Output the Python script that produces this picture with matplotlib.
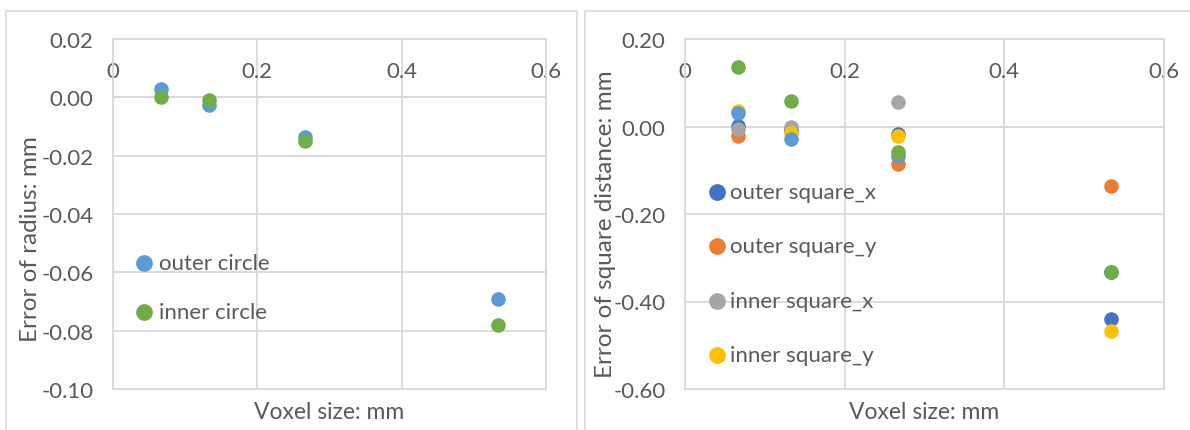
"""Excel-style scatter panels: radius and square-distance errors vs voxel size."""

import matplotlib

matplotlib.use("Agg")
import matplotlib.pyplot as plt
from matplotlib.patches import Rectangle
from matplotlib.ticker import FuncFormatter


VOXEL = [0.0667, 0.1333, 0.2667, 0.5333]

# left panel
CIRCLE_LABELS = ["outer circle", "inner circle"]
OUTER_CIRCLE = [0.0029, -0.0026, -0.0137, -0.0690]
INNER_CIRCLE = [0.0001, -0.0010, -0.0148, -0.0780]

# right panel (last two series are drawn but not listed in the legend)
SQUARE_LABELS = ["outer square_x", "outer square_y", "inner square_x", "inner square_y"]
OUTER_SQ_X = [0.002, -0.005, -0.017, -0.439]
OUTER_SQ_Y = [-0.021, -0.010, -0.085, -0.137]
INNER_SQ_X = [-0.005, -0.002, 0.055, -0.333]
INNER_SQ_Y = [0.035, -0.014, -0.021, -0.468]
EXTRA_1 = [0.031, -0.029, -0.067, -0.333]
EXTRA_2 = [0.137, 0.059, -0.059, -0.333]

X_TICKS = [0, 0.2, 0.4, 0.6]
LEFT_YTICKS = [0.02, 0.00, -0.02, -0.04, -0.06, -0.08, -0.10]
RIGHT_YTICKS = [0.20, 0.00, -0.20, -0.40, -0.60]

TEXT = "#595959"
GRID = "#D9D9D9"
DOT = 110

plt.rcParams.update({"font.family": ["Lato", "DejaVu Sans"], "font.size": 16})


def style_axis(ax, yticks, ylabel):
    ax.set_xlim(0, 0.6)
    ax.set_ylim(min(yticks), max(yticks))
    ax.set_xticks(X_TICKS)
    ax.set_xticklabels([f"{v:g}" for v in X_TICKS])
    ax.set_yticks(yticks)
    ax.yaxis.set_major_formatter(FuncFormatter(lambda v, _: f"{v:.2f}"))
    ax.xaxis.tick_top()
    ax.tick_params(axis="x", length=0, pad=-30, labelsize=16, colors=TEXT)
    ax.tick_params(axis="y", length=0, pad=14, labelsize=16, colors=TEXT)
    ax.grid(color=GRID, linewidth=1.3)
    ax.axhline(0, color=GRID, linewidth=1.3, zorder=1)
    ax.set_axisbelow(True)
    for spine in ax.spines.values():
        spine.set_color(GRID)
        spine.set_linewidth(1.3)
    ax.set_xlabel("Voxel size: mm", fontsize=16.5, color=TEXT)
    ax.xaxis.set_label_position("bottom")
    ax.xaxis.set_label_coords(0.5, -0.035)
    ax.set_ylabel(ylabel, fontsize=17.5, color=TEXT)


fig = plt.figure(figsize=(11.9, 4.31), dpi=100)

# chart frames
fig.patches.append(Rectangle((6 / 1190, -0.05), 571 / 1190, 1.05 - 12 / 431,
                             transform=fig.transFigure, fill=False,
                             edgecolor=GRID, linewidth=1.2))
fig.patches.append(Rectangle((585 / 1190, -0.05), 0.6, 1.05 - 12 / 431,
                             transform=fig.transFigure, fill=False,
                             edgecolor=GRID, linewidth=1.2))

ax1 = fig.add_axes([113 / 1190, 41 / 431, 433 / 1190, 350 / 431])
ax1.scatter(VOXEL, OUTER_CIRCLE, s=DOT, color="#5B9BD5", label=CIRCLE_LABELS[0],
            linewidths=0, zorder=3)
ax1.scatter(VOXEL, INNER_CIRCLE, s=DOT, color="#70AD47", label=CIRCLE_LABELS[1],
            linewidths=0, zorder=3)
style_axis(ax1, LEFT_YTICKS, "Error of radius: mm")
ax1.yaxis.set_label_coords(-0.166, 0.43)
ax1.legend(loc="center left", bbox_to_anchor=(0.016, 0.29), frameon=False,
           handlelength=1.0, handletextpad=0.15, labelspacing=1.33, fontsize=16,
           markerscale=1.15, labelcolor=TEXT, borderaxespad=0.2)

ax2 = fig.add_axes([685 / 1190, 41 / 431, 479 / 1190, 350 / 431])
series = [
    (OUTER_SQ_X, "#4472C4"),
    (OUTER_SQ_Y, "#ED7D31"),
    (INNER_SQ_X, "#A5A5A5"),
    (INNER_SQ_Y, "#FFC000"),
    (EXTRA_1, "#5B9BD5"),
    (EXTRA_2, "#70AD47"),
]
handles = []
for values, color in series:
    handles.append(ax2.scatter(VOXEL, values, s=DOT, color=color, linewidths=0, zorder=3))
style_axis(ax2, RIGHT_YTICKS, "Error of square distance: mm")
ax2.yaxis.set_label_coords(-0.144, 0.475)
ax2.legend(handles[:4], SQUARE_LABELS, loc="center left", bbox_to_anchor=(0.015, 0.33),
           frameon=False, handlelength=1.0, handletextpad=0.1, labelspacing=1.55,
           fontsize=16, markerscale=1.15, labelcolor=TEXT, borderaxespad=0.2)

fig.savefig("out.png", dpi=100)
